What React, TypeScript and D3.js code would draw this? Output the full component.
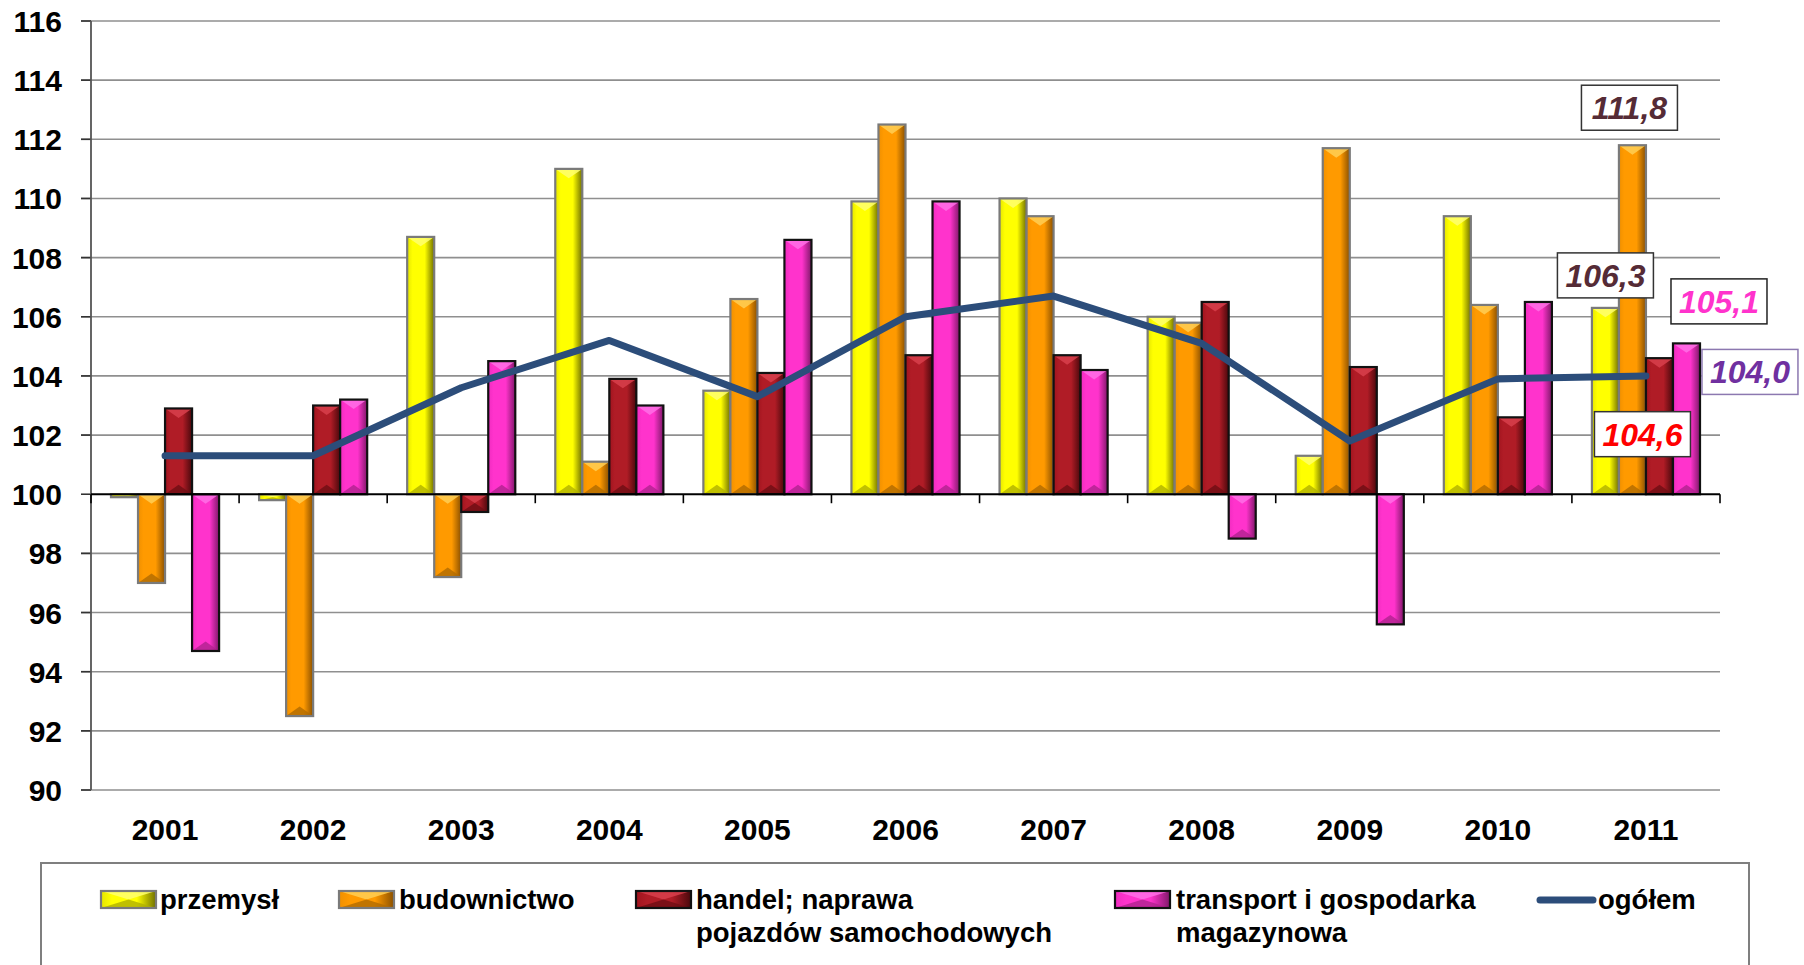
import React from "react";
import * as d3 from "d3";

const years = ["2001", "2002", "2003", "2004", "2005", "2006", "2007", "2008", "2009", "2010", "2011"];
const przemysl = [99.9, 99.8, 108.7, 111.0, 103.5, 109.9, 110.0, 106.0, 101.3, 109.4, 106.3];
const budownictwo = [97.0, 92.5, 97.2, 101.1, 106.6, 112.5, 109.4, 105.8, 111.7, 106.4, 111.8];
const handel = [102.9, 103.0, 99.4, 103.9, 104.1, 104.7, 104.7, 106.5, 104.3, 102.6, 104.6];
const transport = [94.7, 103.2, 104.5, 103.0, 108.6, 109.9, 104.2, 98.5, 95.6, 106.5, 105.1];
const ogolem = [101.3, 101.3, 103.6, 105.2, 103.3, 106.0, 106.7, 105.1, 101.8, 103.9, 104.0];
const yTicks = [90, 92, 94, 96, 98, 100, 102, 104, 106, 108, 110, 112, 114, 116];
const seriesNames = ["przemysł", "budownictwo", "handel; naprawa\npojazdów samochodowych", "transport i gospodarka\nmagazynowa"];
const lineName = "ogółem";

const W = 1804, H = 965;
const L = 91, R = 1720, T = 21, B = 790;
const FONT = "'Liberation Sans', Arial, Helvetica, sans-serif";

type Style = { id: string; light: string; main: string; dark: string; top: string; bottom: string; stroke: string };
const styles: Style[] = [
  { id: "g0", light: "#e6e600", main: "#ffff00", dark: "#707000", top: "#ffff70", bottom: "#b0b000", stroke: "#7a7a7a" },
  { id: "g1", light: "#f09000", main: "#ff9a00", dark: "#8a5000", top: "#ffcf55", bottom: "#b06a00", stroke: "#7a7a7a" },
  { id: "g2", light: "#a0141e", main: "#b01c26", dark: "#4a080c", top: "#d8404c", bottom: "#6e0e14", stroke: "#111111" },
  { id: "g3", light: "#f02cc0", main: "#ff33cc", dark: "#80186a", top: "#ff70e6", bottom: "#b0228e", stroke: "#111111" },
];

function Bar({ x, y, w, h, s }: { x: number; y: number; w: number; h: number; s: Style }) {
  const b = Math.min(w * 0.35, h / 2);
  const cx = x + w / 2;
  return (
    <g>
      <rect x={x} y={y} width={w} height={h} fill={`url(#${s.id})`} />
      <polygon points={`${x},${y} ${x + w},${y} ${cx},${y + b}`} fill={s.top} opacity={0.85} />
      <polygon points={`${x},${y + h} ${x + w},${y + h} ${cx},${y + h - b}`} fill={s.bottom} opacity={0.8} />
      <rect x={x} y={y} width={w} height={h} fill="none" stroke={s.stroke} strokeWidth={2.2} />
    </g>
  );
}

export default function App() {
  const data = [przemysl, budownictwo, handel, transport];
  const y = d3.scaleLinear().domain([90, 116]).range([B, T]);
  const x0 = d3.scaleBand<string>().domain(years).range([L, R]).padding(0);
  const x1 = d3.scaleBand<number>().domain([0, 1, 2, 3]).range([0, x0.bandwidth()]).paddingInner(0).paddingOuter(0.74);
  const bw = x1.bandwidth();
  const base = y(100);
  const line = d3
    .line<number>()
    .x((_, i) => (x0(years[i]) as number) + x0.bandwidth() / 2)
    .y((d) => y(d));

  const last = years.length - 1;
  const lx = (si: number) => (x0(years[last]) as number) + (x1(si) as number) + bw / 2;
  const fmt = (v: number) => v.toFixed(1).replace(".", ",");
  const boxW = 96, boxH = 45;
  const annotations = [
    { text: fmt(budownictwo[last]), color: "#552b36", border: "#333333", cx: lx(1) - 3, cy: y(budownictwo[last]) - 15 - boxH / 2 },
    { text: fmt(przemysl[last]), color: "#552b36", border: "#333333", cx: lx(0), cy: y(przemysl[last]) - 10 - boxH / 2 },
    { text: fmt(transport[last]), color: "#ff33cc", border: "#222222", cx: lx(3) + 32.5, cy: y(transport[last]) - 42 },
    { text: fmt(ogolem[last]), color: "#7030a0", border: "#8c78b0", cx: line.x()(0, last, []) + 56 + boxW / 2, cy: y(ogolem[last]) - 4 },
    { text: fmt(handel[last]), color: "#ff0000", border: "#333333", cx: lx(2) - 17, cy: y(handel[last]) + 76 },
  ];

  const legendItems = [
    { sw: 101, tx: 160, i: 0 },
    { sw: 339, tx: 399, i: 1 },
    { sw: 636, tx: 696, i: 2 },
    { sw: 1115, tx: 1176, i: 3 },
  ];

  return (
    <svg width={W} height={H} style={{ position: "absolute", left: 0, top: 0, display: "block", background: "#fff" }} fontFamily={FONT}>
      <defs>
        {styles.map((s) => (
          <linearGradient key={s.id} id={s.id} x1="0" y1="0" x2="1" y2="0">
            <stop offset="0" stopColor={s.light} />
            <stop offset="0.2" stopColor={s.main} />
            <stop offset="0.65" stopColor={s.main} />
            <stop offset="1" stopColor={s.dark} />
          </linearGradient>
        ))}
      </defs>
      <rect x={0} y={0} width={W} height={H} fill="#fff" />
      {/* gridlines */}
      {yTicks.map((t) => (
        <line key={t} x1={L - 10} x2={R} y1={y(t)} y2={y(t)} stroke={t === 100 ? "none" : "#8f8f8f"} strokeWidth={1.6} />
      ))}
      {yTicks.map((t) => (
        <line key={"tk" + t} x1={L - 10} x2={L} y1={y(t)} y2={y(t)} stroke="#333" strokeWidth={1.6} />
      ))}
      {/* y axis */}
      <line x1={L} x2={L} y1={T} y2={B} stroke="#555" strokeWidth={1.8} />
      {yTicks.map((t) => (
        <text key={"yl" + t} x={62} y={y(t) + 11} textAnchor="end" fontSize={30} fontWeight="bold" fill="#000">
          {t}
        </text>
      ))}
      {/* bars */}
      {data.map((arr, si) =>
        arr.map((v, i) => {
          const x = (x0(years[i]) as number) + (x1(si) as number);
          const top = Math.min(y(v), base);
          const h = Math.abs(y(v) - base);
          return <Bar key={si + "-" + i} x={x} y={top} w={bw} h={h} s={styles[si]} />;
        })
      )}
      {/* baseline axis */}
      <line x1={L} x2={R} y1={base} y2={base} stroke="#000" strokeWidth={1.8} />
      {years.map((yr, i) => (
        <line key={"xt" + yr} x1={x0(yr) as number} x2={x0(yr) as number} y1={base} y2={base + 9} stroke="#000" strokeWidth={1.6} />
      ))}
      <line x1={R} x2={R} y1={base} y2={base + 9} stroke="#000" strokeWidth={1.6} />
      {/* x labels */}
      {years.map((yr) => (
        <text key={"xl" + yr} x={(x0(yr) as number) + x0.bandwidth() / 2} y={840} textAnchor="middle" fontSize={30} fontWeight="bold" fill="#000">
          {yr}
        </text>
      ))}
      {/* line */}
      <path d={line(ogolem) || ""} fill="none" stroke="#2c4d7a" strokeWidth={7} strokeLinejoin="round" strokeLinecap="round" />
      {/* annotations */}
      {annotations.map((a, k) => (
        <g key={"an" + k}>
          <rect x={a.cx - boxW / 2} y={a.cy - boxH / 2} width={boxW} height={boxH} fill="#fff" stroke={a.border} strokeWidth={1.5} />
          <text x={a.cx} y={a.cy + 11.5} textAnchor="middle" fontSize={32} fontWeight="bold" fontStyle="italic" fill={a.color}>
            {a.text}
          </text>
        </g>
      ))}
      {/* legend */}
      <rect x={41} y={863} width={1708} height={140} fill="#fff" stroke="#7f7f7f" strokeWidth={2} />
      {legendItems.map((it) => {
        const lines = seriesNames[it.i].split("\n");
        return (
          <g key={"lg" + it.i}>
            <Bar x={it.sw} y={891} w={55} h={17} s={styles[it.i]} />
            {lines.map((ln, j) => (
              <text key={j} x={it.tx} y={909 + j * 33} fontSize={27.5} fontWeight="bold" fill="#000">
                {ln}
              </text>
            ))}
          </g>
        );
      })}
      <line x1={1540} x2={1593} y1={900} y2={900} stroke="#2c4d7a" strokeWidth={7} strokeLinecap="round" />
      <text x={1598} y={909} fontSize={27.5} fontWeight="bold" fill="#000">
        {lineName}
      </text>
    </svg>
  );
}
